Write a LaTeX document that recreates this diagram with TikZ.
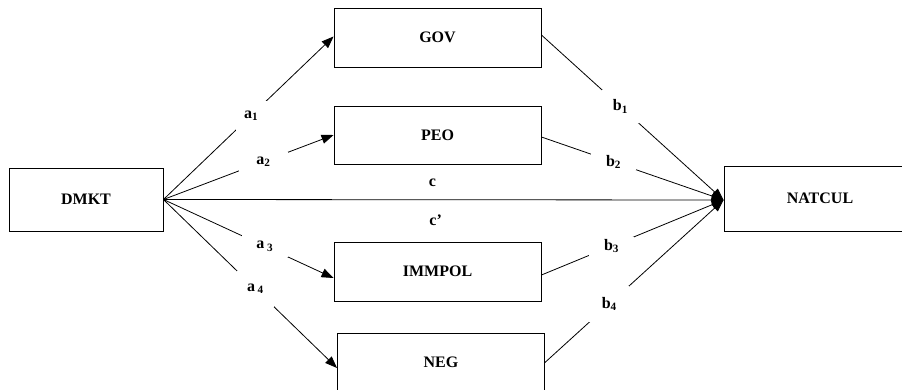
\documentclass[tikz,border=0pt]{standalone}
\usepackage{fontspec}
\setmainfont{Liberation Serif}
\usetikzlibrary{arrows.meta}
\begin{document}
\begin{tikzpicture}[x=1pt,y=-1pt,
  box/.style={draw, line width=0.9pt, minimum width=207pt, minimum height=59pt, inner sep=0pt, font=\fontsize{16}{18}\selectfont\bfseries},
  arr/.style={line width=0.8pt, -{Triangle[length=12pt,width=9pt]}},
  lbl/.style={fill=white, inner sep=0pt, font=\fontsize{16}{18}\selectfont\bfseries},
  clbl/.style={inner sep=0pt, font=\fontsize{16}{18}\selectfont\bfseries}]
\useasboundingbox (0,0) rectangle (902,390);
\node[box, minimum width=154pt, minimum height=63pt] (dmkt) at (86,199.5) {DMKT};
\node[box] (gov) at (437.5,37.5) {GOV};
\node[box, minimum height=58pt] (peo) at (437.5,135) {PEO};
\node[box] (immpol) at (437.5,271.5) {IMMPOL};
\node[box] (neg) at (441,362.5) {NEG};
\node[box, minimum width=192pt, minimum height=65pt] (natcul) at (820,198.5) {NATCUL};
\coordinate (tgt) at ([yshift=-1.5pt]natcul.west);
% a paths
\draw[arr] (dmkt.east) -- node[lbl, pos=0.515, minimum width=31pt, minimum height=30pt]{a\textsubscript{1}} ([yshift=1pt]gov.west);
\draw[arr] (dmkt.east) -- node[lbl, pos=0.588, minimum width=49pt, minimum height=20pt]{a\textsubscript{2}} (peo.west);
\draw[arr] (dmkt.east) -- node[lbl, pos=0.596, minimum width=46pt, minimum height=22pt]{a\,\textsubscript{3}} ([yshift=-6.5pt]immpol.west);
\draw[arr] (dmkt.east) -- node[lbl, pos=0.53, minimum width=37pt, minimum height=36pt]{a\,\textsubscript{4}} ([yshift=-5.5pt]neg.west);
% c path
\draw[arr] (dmkt.east) -- node[clbl, pos=0.48, yshift=17pt]{c} node[clbl, pos=0.486, yshift=-21pt]{c’} (tgt);
% b paths
\draw[arr] ([yshift=2.5pt]gov.east) -- node[lbl, pos=0.434, minimum width=37pt, minimum height=33pt]{b\textsubscript{1}} (tgt);
\draw[arr] ([yshift=-2pt]peo.east) -- node[lbl, pos=0.396, minimum width=45pt, minimum height=17pt]{b\textsubscript{2}} (tgt);
\draw[arr] ([yshift=-3.5pt]immpol.east) -- node[lbl, pos=0.385, minimum width=45pt, minimum height=19pt]{b\textsubscript{3}} (tgt);
\draw[arr] (neg.east) -- node[lbl, pos=0.36, minimum width=40pt, minimum height=36pt]{b\textsubscript{4}} (tgt);
\end{tikzpicture}
\end{document}
